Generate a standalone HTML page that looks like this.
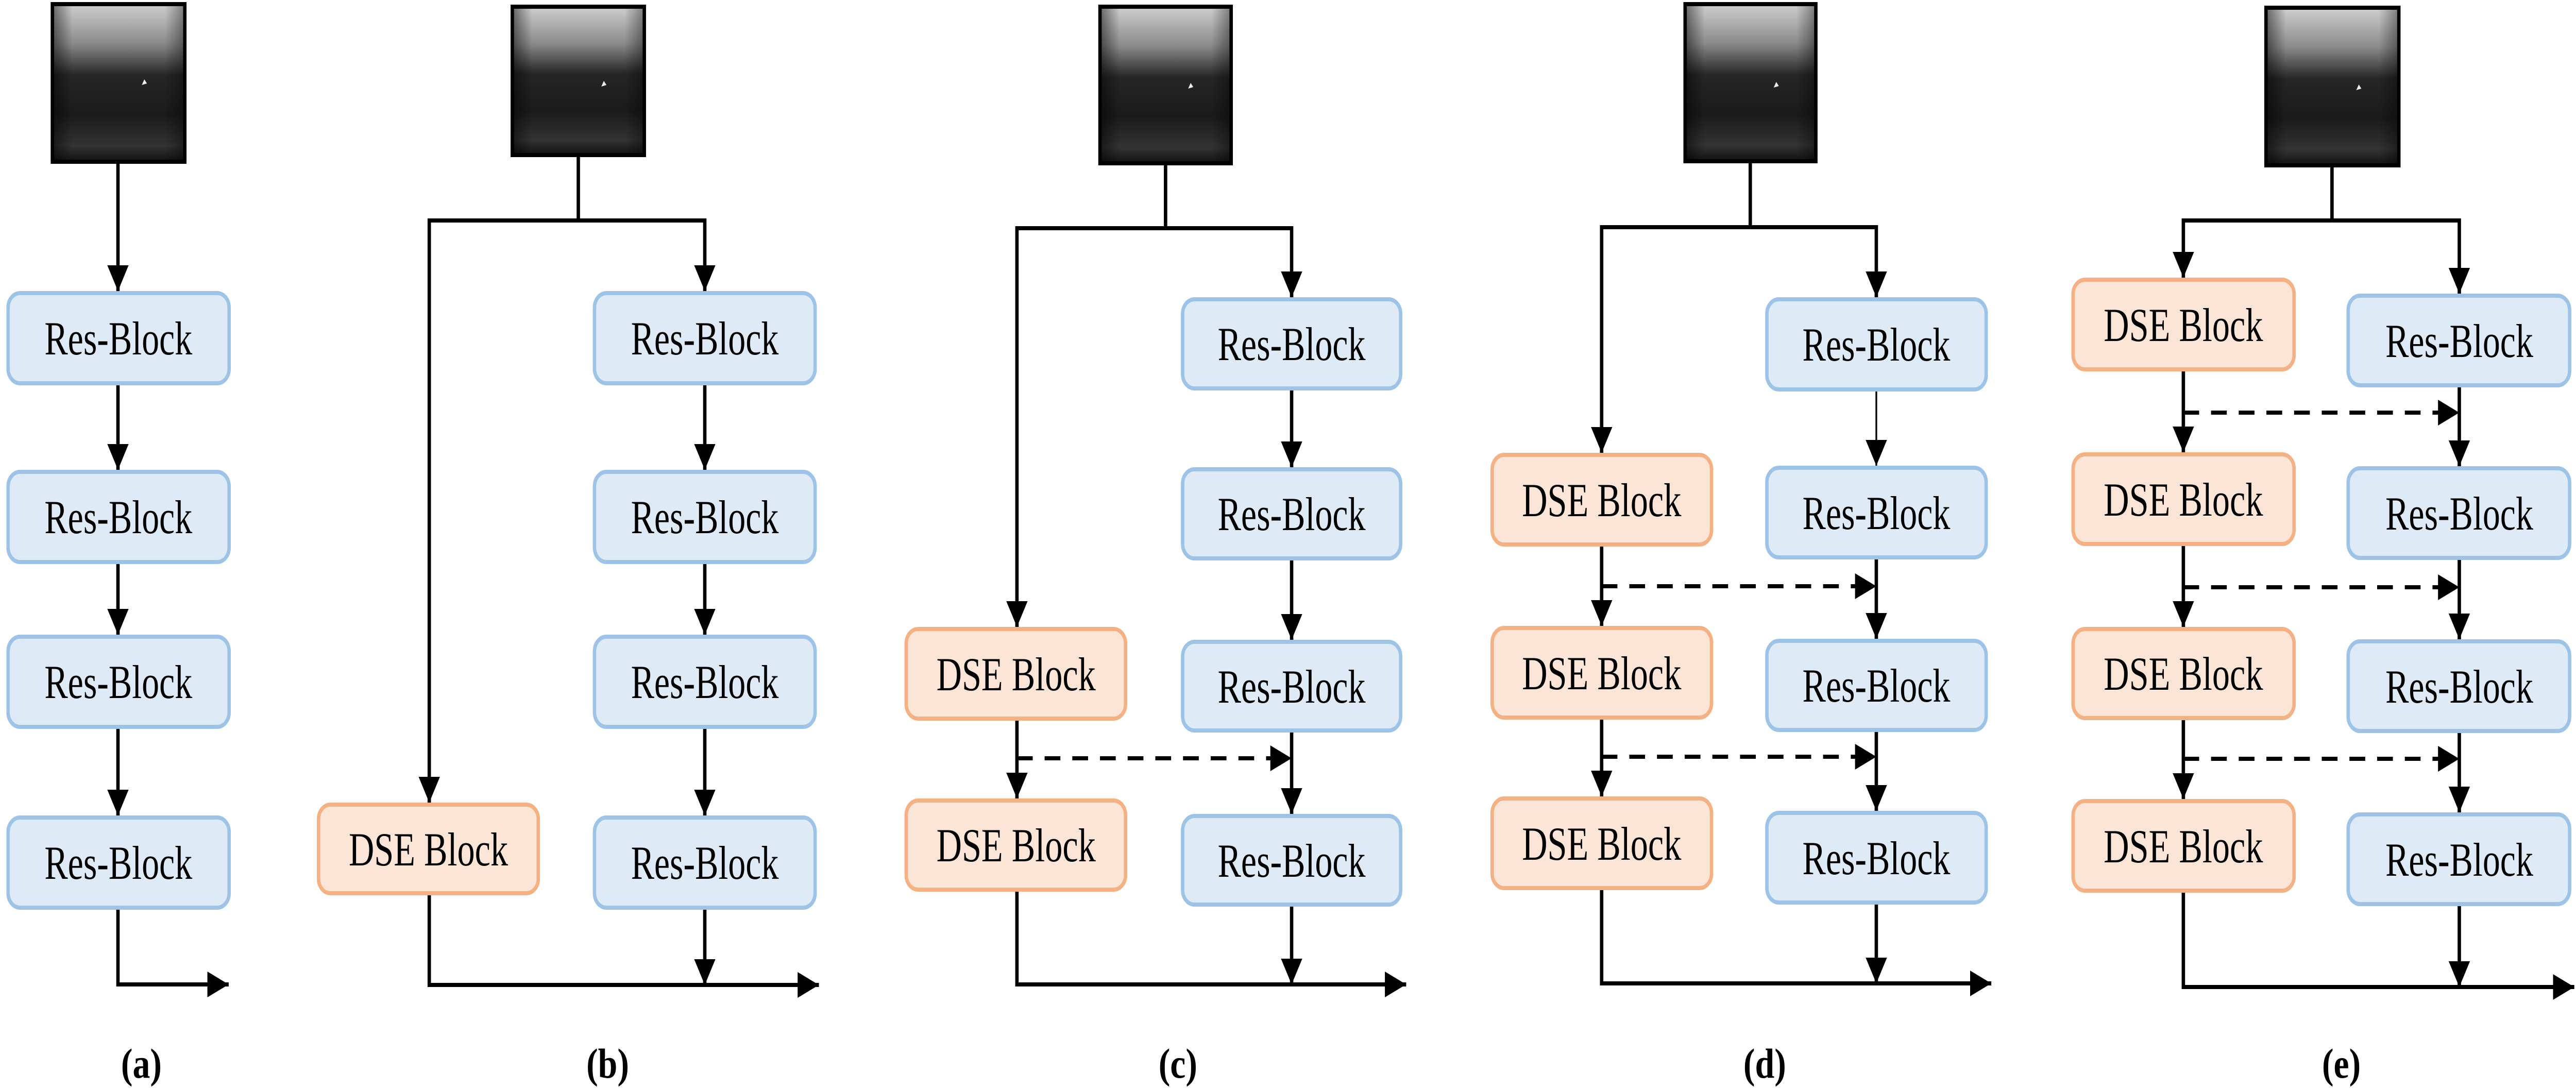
<!DOCTYPE html>
<html><head><meta charset="utf-8"><style>html,body{margin:0;padding:0;background:#fff;overflow:hidden;width:100%;height:100%}svg{display:block;position:absolute;left:0;top:0;width:100vw;height:100vh}</style></head>
<body>
<svg xmlns="http://www.w3.org/2000/svg" viewBox="0 0 6049 2114" preserveAspectRatio="none">
<defs>
<marker id="ah" markerUnits="userSpaceOnUse" markerWidth="50" markerHeight="50" refX="50" refY="25" orient="auto"><path d="M0,0 L50,25 L0,50z" fill="#000"/></marker>
<linearGradient id="img" x1="0" y1="0" x2="0" y2="1">
<stop offset="0" stop-color="#cfcfcf"/><stop offset="0.25" stop-color="#8a8a8a"/><stop offset="0.45" stop-color="#262626"/><stop offset="0.7" stop-color="#1a1a1a"/><stop offset="0.9" stop-color="#333"/><stop offset="1" stop-color="#111"/>
</linearGradient>
<linearGradient id="side" x1="0" y1="0" x2="1" y2="0">
<stop offset="0" stop-color="#000" stop-opacity="0.5"/><stop offset="0.15" stop-color="#000" stop-opacity="0"/><stop offset="0.85" stop-color="#000" stop-opacity="0"/><stop offset="1" stop-color="#000" stop-opacity="0.4"/>
</linearGradient>
</defs>
<style>
.res{fill:#deebf7;stroke:#9dc3e6;stroke-width:8}
.dse{fill:#fbe5d6;stroke:#f4b183;stroke-width:8}
.ln{fill:none;stroke:#000;stroke-width:8}
.ar{fill:none;stroke:#000;stroke-width:8;marker-end:url(#ah)}
.ds{fill:none;stroke:#000;stroke-width:8;stroke-dasharray:37 28;marker-end:url(#ah)}
.t{font-family:"Liberation Serif",serif;font-size:92px;text-anchor:middle;fill:#000}
.lb{font-family:"Liberation Serif",serif;font-size:82px;font-weight:bold;text-anchor:middle;fill:#000}
</style>

<g>
<rect x="123" y="8" width="311" height="306" fill="url(#img)"/><rect x="123" y="8" width="311" height="306" fill="url(#side)" stroke="#000" stroke-width="8"/><path d="M333 165 l12 -3 l-6 -8z" fill="#eee"/>
<rect x="1203" y="13" width="310" height="288" fill="url(#img)"/><rect x="1203" y="13" width="310" height="288" fill="url(#side)" stroke="#000" stroke-width="8"/><path d="M1412 168 l12 -3 l-6 -8z" fill="#eee"/>
<rect x="2583" y="13" width="308" height="304" fill="url(#img)"/><rect x="2583" y="13" width="308" height="304" fill="url(#side)" stroke="#000" stroke-width="8"/><path d="M2790 172 l12 -3 l-6 -8z" fill="#eee"/>
<rect x="3957" y="8" width="307" height="305" fill="url(#img)"/><rect x="3957" y="8" width="307" height="305" fill="url(#side)" stroke="#000" stroke-width="8"/><path d="M4165 170 l12 -3 l-6 -8z" fill="#eee"/>
<rect x="5321" y="15" width="312" height="306" fill="url(#img)"/><rect x="5321" y="15" width="312" height="306" fill="url(#side)" stroke="#000" stroke-width="8"/><path d="M5533 175 l12 -3 l-6 -8z" fill="#eee"/>
</g>

<!-- (a) -->
<path class="ar" d="M277 318 V565"/><path class="ar" d="M277 748 V912"/><path class="ar" d="M277 1095 V1232"/><path class="ar" d="M277 1415 V1583"/>
<path class="ar" d="M277 1766 V1911 H537"/>
<rect class="res" x="19" y="569" width="519" height="175" rx="28"/><text class="t" x="278" y="688" textLength="347" lengthAdjust="spacingAndGlyphs">Res-Block</text>
<rect class="res" x="19" y="916" width="519" height="175" rx="28"/><text class="t" x="278" y="1035" textLength="347" lengthAdjust="spacingAndGlyphs">Res-Block</text>
<rect class="res" x="19" y="1236" width="519" height="175" rx="28"/><text class="t" x="278" y="1355" textLength="347" lengthAdjust="spacingAndGlyphs">Res-Block</text>
<rect class="res" x="19" y="1587" width="519" height="175" rx="28"/><text class="t" x="278" y="1706" textLength="347" lengthAdjust="spacingAndGlyphs">Res-Block</text>
<text class="lb" x="332" y="2092">(a)</text>

<!-- (b) -->
<path class="ln" d="M1358 305 V428"/><path class="ar" d="M1358 428 H1008 V1558"/><path class="ar" d="M1358 428 H1655 V565"/>
<path class="ar" d="M1655 748 V912"/><path class="ar" d="M1655 1095 V1232"/><path class="ar" d="M1655 1415 V1583"/>
<path class="ar" d="M1008 1738 V1912 H1923"/><path class="ar" d="M1655 1766 V1912"/>
<rect class="res" x="1396" y="569" width="518" height="175" rx="28"/><text class="t" x="1655" y="688" textLength="347" lengthAdjust="spacingAndGlyphs">Res-Block</text>
<rect class="res" x="1396" y="916" width="518" height="175" rx="28"/><text class="t" x="1655" y="1035" textLength="347" lengthAdjust="spacingAndGlyphs">Res-Block</text>
<rect class="res" x="1396" y="1236" width="518" height="175" rx="28"/><text class="t" x="1655" y="1355" textLength="347" lengthAdjust="spacingAndGlyphs">Res-Block</text>
<rect class="res" x="1396" y="1587" width="518" height="175" rx="28"/><text class="t" x="1655" y="1706" textLength="347" lengthAdjust="spacingAndGlyphs">Res-Block</text>
<rect class="dse" x="748" y="1562" width="516" height="172" rx="28"/><text class="t" x="1006" y="1680" textLength="374" lengthAdjust="spacingAndGlyphs">DSE Block</text>
<text class="lb" x="1427" y="2092">(b)</text>

<!-- (c) -->
<path class="ln" d="M2737 321 V443"/><path class="ar" d="M2737 443 H2388 V1217"/><path class="ar" d="M2737 443 H3033 V577"/>
<path class="ar" d="M3033 758 V907"/><path class="ar" d="M3033 1088 V1242"/><path class="ar" d="M3033 1422 V1580"/>
<path class="ar" d="M2388 1399 V1550"/><path class="ds" d="M2388 1472 H3033"/>
<path class="ar" d="M2388 1731 V1911 H3302"/><path class="ar" d="M3033 1760 V1911"/>
<rect class="res" x="2777" y="581" width="512" height="173" rx="28"/><text class="t" x="3033" y="699" textLength="347" lengthAdjust="spacingAndGlyphs">Res-Block</text>
<rect class="res" x="2777" y="911" width="512" height="173" rx="28"/><text class="t" x="3033" y="1029" textLength="347" lengthAdjust="spacingAndGlyphs">Res-Block</text>
<rect class="res" x="2777" y="1246" width="512" height="172" rx="28"/><text class="t" x="3033" y="1364" textLength="347" lengthAdjust="spacingAndGlyphs">Res-Block</text>
<rect class="res" x="2777" y="1584" width="512" height="172" rx="28"/><text class="t" x="3033" y="1702" textLength="347" lengthAdjust="spacingAndGlyphs">Res-Block</text>
<rect class="dse" x="2128" y="1221" width="515" height="174" rx="28"/><text class="t" x="2386" y="1340" textLength="374" lengthAdjust="spacingAndGlyphs">DSE Block</text>
<rect class="dse" x="2128" y="1554" width="515" height="173" rx="28"/><text class="t" x="2386" y="1672" textLength="374" lengthAdjust="spacingAndGlyphs">DSE Block</text>
<text class="lb" x="2766" y="2092">(c)</text>

<!-- (d) -->
<path class="ln" d="M4110 317 V441"/><path class="ar" d="M4110 441 H3761 V879"/><path class="ar" d="M4110 441 H4406 V577"/>
<path class="ar" d="M4406 760 V904" style="stroke-width:4"/><path class="ar" d="M4406 1086 V1240"/><path class="ar" d="M4406 1421 V1574"/>
<path class="ar" d="M3761 1061 V1215"/><path class="ar" d="M3761 1397 V1546"/>
<path class="ds" d="M3761 1138 H4406"/><path class="ds" d="M3761 1469 H4406"/>
<path class="ar" d="M3761 1728 V1909 H4676"/><path class="ar" d="M4406 1756 V1909"/>
<rect class="res" x="4149" y="581" width="515" height="175" rx="28"/><text class="t" x="4406" y="700" textLength="347" lengthAdjust="spacingAndGlyphs">Res-Block</text>
<rect class="res" x="4149" y="908" width="515" height="174" rx="28"/><text class="t" x="4406" y="1027" textLength="347" lengthAdjust="spacingAndGlyphs">Res-Block</text>
<rect class="res" x="4149" y="1244" width="515" height="173" rx="28"/><text class="t" x="4406" y="1362" textLength="347" lengthAdjust="spacingAndGlyphs">Res-Block</text>
<rect class="res" x="4149" y="1578" width="515" height="174" rx="28"/><text class="t" x="4406" y="1697" textLength="347" lengthAdjust="spacingAndGlyphs">Res-Block</text>
<rect class="dse" x="3504" y="883" width="515" height="174" rx="28"/><text class="t" x="3761" y="1002" textLength="374" lengthAdjust="spacingAndGlyphs">DSE Block</text>
<rect class="dse" x="3504" y="1219" width="515" height="174" rx="28"/><text class="t" x="3761" y="1338" textLength="374" lengthAdjust="spacingAndGlyphs">DSE Block</text>
<rect class="dse" x="3504" y="1550" width="515" height="174" rx="28"/><text class="t" x="3761" y="1669" textLength="374" lengthAdjust="spacingAndGlyphs">DSE Block</text>
<text class="lb" x="4144" y="2092">(d)</text>

<!-- (e) -->
<path class="ln" d="M5476 325 V428"/><path class="ar" d="M5476 428 H5127 V539"/><path class="ar" d="M5476 428 H5775 V570"/>
<path class="ar" d="M5127 721 V878"/><path class="ar" d="M5127 1060 V1217"/><path class="ar" d="M5127 1398 V1551"/>
<path class="ar" d="M5775 752 V905"/><path class="ar" d="M5775 1087 V1241"/><path class="ar" d="M5775 1423 V1577"/>
<path class="ds" d="M5127 801 H5775"/><path class="ds" d="M5127 1140 H5775"/><path class="ds" d="M5127 1473 H5775"/>
<path class="ar" d="M5127 1733 V1916 H6045"/><path class="ar" d="M5775 1759 V1916"/>
<rect class="dse" x="4868" y="543" width="519" height="174" rx="28"/><text class="t" x="5127" y="662" textLength="374" lengthAdjust="spacingAndGlyphs">DSE Block</text>
<rect class="dse" x="4868" y="882" width="519" height="174" rx="28"/><text class="t" x="5127" y="1001" textLength="374" lengthAdjust="spacingAndGlyphs">DSE Block</text>
<rect class="dse" x="4868" y="1221" width="519" height="173" rx="28"/><text class="t" x="5127" y="1339" textLength="374" lengthAdjust="spacingAndGlyphs">DSE Block</text>
<rect class="dse" x="4868" y="1555" width="519" height="174" rx="28"/><text class="t" x="5127" y="1674" textLength="374" lengthAdjust="spacingAndGlyphs">DSE Block</text>
<rect class="res" x="5514" y="574" width="520" height="174" rx="28"/><text class="t" x="5775" y="693" textLength="347" lengthAdjust="spacingAndGlyphs">Res-Block</text>
<rect class="res" x="5514" y="909" width="520" height="174" rx="28"/><text class="t" x="5775" y="1028" textLength="347" lengthAdjust="spacingAndGlyphs">Res-Block</text>
<rect class="res" x="5514" y="1245" width="520" height="174" rx="28"/><text class="t" x="5775" y="1364" textLength="347" lengthAdjust="spacingAndGlyphs">Res-Block</text>
<rect class="res" x="5514" y="1581" width="520" height="174" rx="28"/><text class="t" x="5775" y="1700" textLength="347" lengthAdjust="spacingAndGlyphs">Res-Block</text>
<text class="lb" x="5498" y="2092">(e)</text>
</svg>
</body></html>
